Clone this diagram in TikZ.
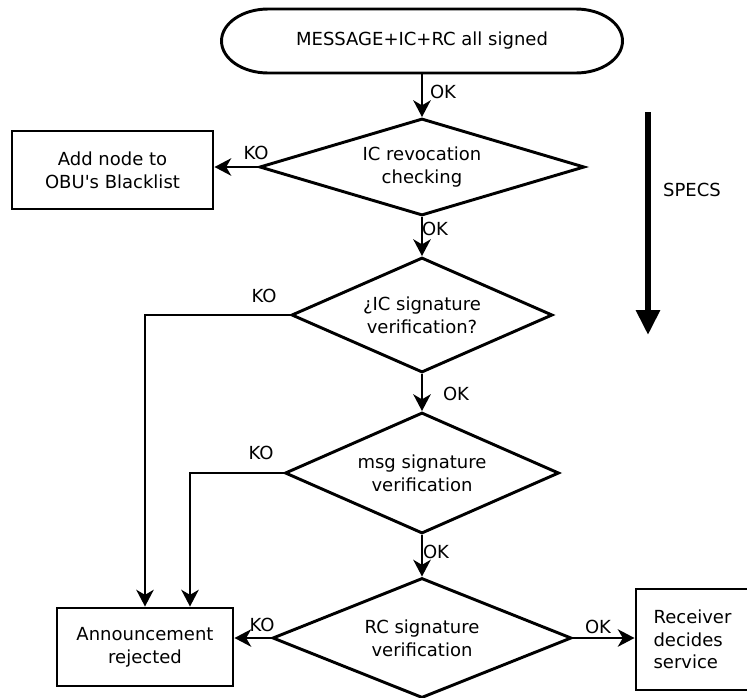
\documentclass[tikz,border=0pt]{standalone}
\usepackage{fontspec}
\setmainfont{DejaVu Sans}
\usetikzlibrary{shapes.geometric,arrows.meta}
\newlength\px
\setlength\px{0.75pt}

\begin{document}
\begin{tikzpicture}[x=0.75pt,y=-0.75pt,line width=2.2pt,
  >={Stealth[length=12.5pt,width=13pt,inset=3.75pt]},
  every node/.style={font=\fontsize{13.5}{17}\selectfont},
  boxnode/.style={rectangle,draw,align=center,inner sep=0pt},
  decision/.style={diamond,draw,align=center,inner sep=0pt}]
\useasboundingbox (0,0) rectangle (747,697);

\node(start) at (422,41)[outer sep=0pt,minimum width=401\px,minimum height=64\px] {MESSAGE+IC+RC all signed};
\draw ([xshift=35pt]start.north west) -- ([xshift=-35pt]start.north east)
  arc[start angle=90,end angle=-90,x radius=35pt,y radius=24pt]
  -- ([xshift=35pt]start.south west)
  arc[start angle=270,end angle=90,x radius=35pt,y radius=24pt] -- cycle;
\node(d1) at (422,167)[decision,minimum width=325\px,minimum height=97\px,aspect=3.35] {IC revocation\\checking};
\node(d2) at (422,315)[decision,minimum width=261\px,minimum height=115\px,aspect=2.27] {¿IC signature\\verification?};
\node(d3) at (422,473)[decision,minimum width=274\px,minimum height=121\px,aspect=2.26] {msg signature\\verification};
\node(d4) at (422,638)[decision,minimum width=299\px,minimum height=120\px,aspect=2.5] {RC signature\\verification};

\node(black) at (112.5,170)[boxnode,minimum width=201\px,minimum height=78\px] {Add node to\\OBU\textquotesingle s Blacklist};
\node(rej) at (145,647)[boxnode,minimum width=176\px,minimum height=78\px] {Announcement\\rejected};
\node(recv) at (692.5,639.5)[boxnode,align=left,minimum width=113\px,minimum height=101\px] {Receiver\\decides\\service};

\node(ok1) at (443,92) {OK};
\node(ko1) at (256,153) {KO};
\node(ok2) at (435,229) {OK};
\node(ko2) at (264,296) {KO};
\node(ok3) at (456,394) {OK};
\node(ko3) at (261,453) {KO};
\node(ok4) at (436,552) {OK};
\node(ko4) at (262,625) {KO};
\node(ok5) at (598,627) {OK};

\coordinate(spa) at (648,112);
\coordinate(spb) at (648,335);
\node(specs) at (692,190) {SPECS};
\draw[line width=4.5pt,-{Triangle[length=18.75pt,width=17.25pt]}] (spa) -- (spb);

\draw[->] (start) -- (d1);
\draw[->] (d1) -- (d2);
\draw[->] (d2) -- (d3);
\draw[->] (d3) -- (d4);
\draw[->] (d1.west) -- (d1.west -| black.east);
\draw[->] (d2.west) -| (rej.north);
\draw[->] (d3.west) -| ([xshift=33.75pt]rej.north);
\draw[->] (d4.west) -- (d4.west -| rej.east);
\draw[->] (d4.east) -- (d4.east -| recv.west);

\end{tikzpicture}
\end{document}
